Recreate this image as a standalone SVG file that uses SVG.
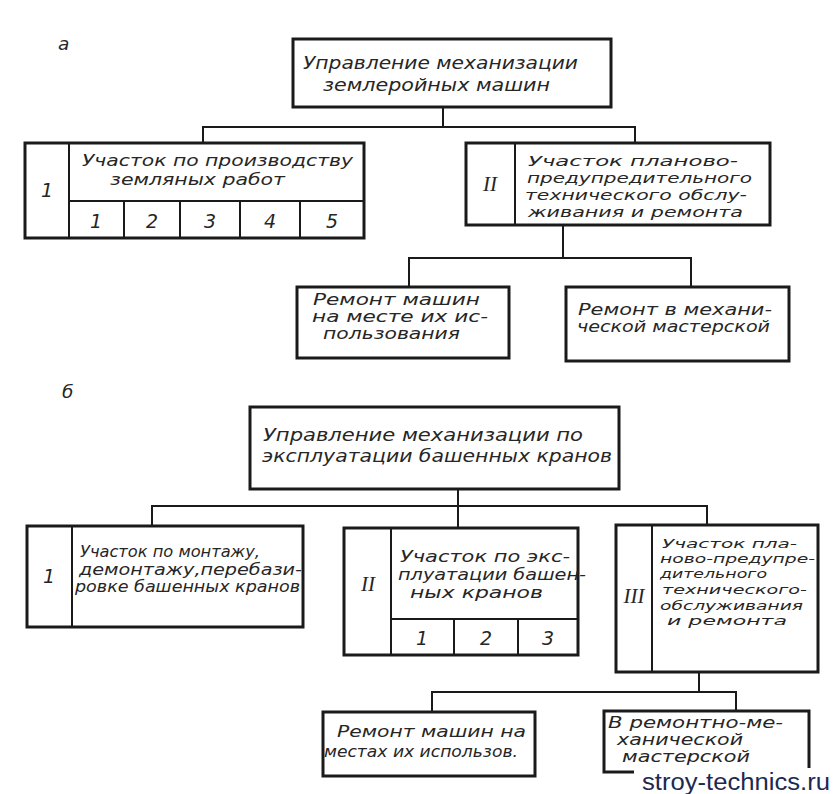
<svg xmlns="http://www.w3.org/2000/svg" width="834" height="794" viewBox="0 0 834 794">
<style>
.box{fill:#fff;stroke:#1a1a1a;stroke-width:3}
.div{fill:none;stroke:#1a1a1a;stroke-width:2}
.con{fill:none;stroke:#1a1a1a;stroke-width:2}
text{font-family:"DejaVu Sans","Liberation Sans",sans-serif;font-style:italic;fill:#262626}
.t19{font-size:18.5px}
.t17{font-size:15px}
.t16{font-size:14.5px}
.t13{font-size:13px}
.num{font-size:19px;text-anchor:middle}
.rom{font-family:"Liberation Serif","DejaVu Serif",serif;font-size:21px;text-anchor:middle}
.wm{font-family:"Liberation Sans",Arial,sans-serif;font-style:normal;font-size:23px;fill:#1d2951}
</style>
<rect width="834" height="794" fill="#fff"/>

<text x="58" y="50" class="t19">а</text>
<text x="62" y="398" class="t19">б</text>

<g id="connectors">
<path class="con" d="M443,107 V127 M203,143 V127 H635 V143"/>
<path class="con" d="M563,225 V258 M409,287 V258 H691 V287"/>
<path class="con" d="M458,489 V527 M152,526 V506 H707 V525"/>
<path class="con" d="M699,672 V692 M432,712 V692 H736 V711"/>
</g>

<g id="a_top">
<rect class="box" x="293" y="39" width="318" height="68"/>
<text x="303" y="69" class="t19" textLength="275" lengthAdjust="spacingAndGlyphs">Управление механизации</text>
<text x="323" y="91" class="t19" textLength="227" lengthAdjust="spacingAndGlyphs">землеройных машин</text>
</g>

<g id="a_1">
<rect class="box" x="25" y="143" width="339" height="95"/>
<path class="div" d="M69,143 V238 M69,201 H364 M124,201 V238 M180,201 V238 M240,201 V238 M300,201 V238"/>
<text x="47" y="197" class="num" font-size="20">1</text>
<text x="82" y="166" class="t17" font-size="17px" textLength="271" lengthAdjust="spacingAndGlyphs">Участок по производству</text>
<text x="110" y="185" class="t17" font-size="17px" textLength="175" lengthAdjust="spacingAndGlyphs">земляных работ</text>
<text x="96" y="228" class="num">1</text>
<text x="152" y="228" class="num">2</text>
<text x="210" y="228" class="num">3</text>
<text x="270" y="228" class="num">4</text>
<text x="332" y="228" class="num">5</text>
</g>

<g id="a_2">
<rect class="box" x="466" y="143" width="304" height="82"/>
<path class="div" d="M515,143 V225"/>
<text x="490" y="191" class="rom">II</text>
<text x="528" y="166" class="t16" textLength="210" lengthAdjust="spacingAndGlyphs">Участок планово-</text>
<text x="527" y="183" class="t16" textLength="225" lengthAdjust="spacingAndGlyphs">предупредительного</text>
<text x="525" y="200" class="t16" textLength="222" lengthAdjust="spacingAndGlyphs">технического обслу-</text>
<text x="528" y="217" class="t16" textLength="215" lengthAdjust="spacingAndGlyphs">живания и ремонта</text>
</g>

<g id="a_repair_site">
<rect class="box" x="297" y="287" width="212" height="71"/>
<text x="313" y="305" class="t17" textLength="167" lengthAdjust="spacingAndGlyphs">Ремонт машин</text>
<text x="312" y="322" class="t17" textLength="176" lengthAdjust="spacingAndGlyphs">на месте их ис-</text>
<text x="323" y="339" class="t17" textLength="137" lengthAdjust="spacingAndGlyphs">пользования</text>
</g>

<g id="a_repair_shop">
<rect class="box" x="566" y="287" width="223" height="74"/>
<text x="578" y="315" class="t17" textLength="194" lengthAdjust="spacingAndGlyphs">Ремонт в механи-</text>
<text x="577" y="332" class="t17" textLength="193" lengthAdjust="spacingAndGlyphs">ческой мастерской</text>
</g>

<g id="b_top">
<rect class="box" x="250" y="407" width="369" height="82"/>
<text x="263" y="441" class="t19" textLength="320" lengthAdjust="spacingAndGlyphs">Управление механизации по</text>
<text x="262" y="462" class="t19" textLength="350" lengthAdjust="spacingAndGlyphs">эксплуатации башенных кранов</text>
</g>

<g id="b_1">
<rect class="box" x="27" y="526" width="276" height="101"/>
<path class="div" d="M72,526 V627"/>
<text x="49" y="583" class="num" font-size="20">1</text>
<text x="80" y="557" class="t17" textLength="180" lengthAdjust="spacingAndGlyphs">Участок по монтажу,</text>
<text x="79" y="575" class="t17" textLength="223" lengthAdjust="spacingAndGlyphs">демонтажу,перебази-</text>
<text x="75" y="592" class="t17" textLength="225" lengthAdjust="spacingAndGlyphs">ровке башенных кранов</text>
</g>

<g id="b_2">
<rect class="box" x="344" y="528" width="234" height="127"/>
<path class="div" d="M391,528 V655 M391,619 H578 M454,619 V655 M518,619 V655"/>
<text x="368" y="591" class="rom">II</text>
<text x="400" y="562" class="t17" textLength="170" lengthAdjust="spacingAndGlyphs">Участок по экс-</text>
<text x="398" y="580" class="t17" textLength="188" lengthAdjust="spacingAndGlyphs">плуатации башен-</text>
<text x="410" y="598" class="t17" textLength="133" lengthAdjust="spacingAndGlyphs">ных кранов</text>
<text x="422" y="645" class="num">1</text>
<text x="486" y="645" class="num">2</text>
<text x="548" y="645" class="num">3</text>
</g>

<g id="b_3">
<rect class="box" x="616" y="525" width="202" height="147"/>
<path class="div" d="M652,525 V672"/>
<text x="634" y="603" class="rom">III</text>
<text x="662" y="548" class="t13" textLength="135" lengthAdjust="spacingAndGlyphs">Участок пла-</text>
<text x="660" y="563" class="t13" textLength="155" lengthAdjust="spacingAndGlyphs">ново-предупре-</text>
<text x="660" y="578" class="t13" textLength="107" lengthAdjust="spacingAndGlyphs">дительного</text>
<text x="662" y="594" class="t13" textLength="145" lengthAdjust="spacingAndGlyphs">технического-</text>
<text x="660" y="610" class="t13" textLength="143" lengthAdjust="spacingAndGlyphs">обслуживания</text>
<text x="667" y="625" class="t13" textLength="120" lengthAdjust="spacingAndGlyphs">и ремонта</text>
</g>

<g id="b_repair_site">
<rect class="box" x="323" y="712" width="212" height="64"/>
<text x="337" y="737" class="t17" font-size="16px" textLength="189" lengthAdjust="spacingAndGlyphs">Ремонт машин на</text>
<text x="324" y="757" class="t17" font-size="16px" textLength="194" lengthAdjust="spacingAndGlyphs">местах их использов.</text>
</g>

<g id="b_repair_shop">
<rect class="box" x="604" y="711" width="205" height="61"/>
<text x="608" y="728" class="t17" textLength="175" lengthAdjust="spacingAndGlyphs">В ремонтно-ме-</text>
<text x="617" y="745" class="t17" textLength="126" lengthAdjust="spacingAndGlyphs">ханической</text>
<text x="622" y="762" class="t17" textLength="128" lengthAdjust="spacingAndGlyphs">мастерской</text>
</g>

<g id="watermark">
<rect x="634" y="768" width="200" height="26" fill="#fff"/>
<text x="642" y="790" class="wm" textLength="188" lengthAdjust="spacingAndGlyphs">stroy-technics.ru</text>
</g>
</svg>
